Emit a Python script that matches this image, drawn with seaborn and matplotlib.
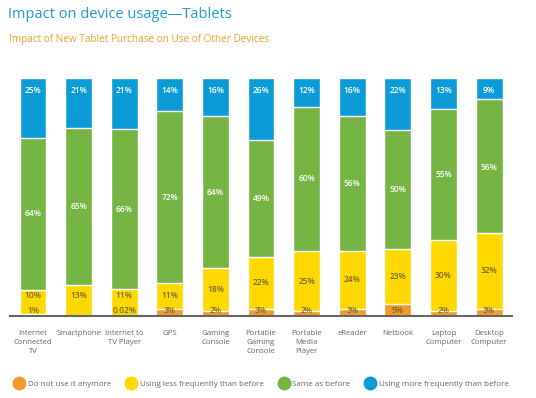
import matplotlib
matplotlib.use("Agg")
import matplotlib.pyplot as plt
import seaborn as sns
import numpy as np
import pandas as pd
from matplotlib.lines import Line2D

devices = ['Internet\nConnected\nTV', 'Smartphone', 'Internet to\nTV Player', 'GPS',
           'Gaming\nConsole', 'Portable\nGaming\nConsole', 'Portable\nMedia\nPlayer',
           'eReader', 'Netbook', 'Laptop\nComputer', 'Desktop\nComputer']
not_anymore = [1, 0, 0.02, 3, 2, 3, 2, 3, 5, 2, 3]
less_often = [10, 13, 11, 11, 18, 22, 25, 24, 23, 30, 32]
same = [64, 65, 66, 72, 64, 49, 60, 56, 50, 55, 56]
more_often = [25, 21, 21, 14, 16, 26, 12, 16, 22, 13, 9]

series = ['Do not use it anymore', 'Using less frequently than before',
          'Same as before', 'Using more frequently than before']
colors = ['#f39a2b', '#ffd800', '#76b443', '#0b9bd7']

df = pd.DataFrame({'device': devices, 'o': not_anymore, 'y': less_often,
                   'g': same, 'b': more_often})
total = df[['o', 'y', 'g', 'b']].sum(axis=1)
# bars are all drawn to full height
for c in ['o', 'y', 'g', 'b']:
    df[c + '_n'] = df[c] / total * 100
df['c1'] = df['o_n']
df['c2'] = df['c1'] + df['y_n']
df['c3'] = df['c2'] + df['g_n']
df['c4'] = df['c3'] + df['b_n']

sns.set_style('white')
plt.rcParams['font.family'] = ['Open Sans', 'DejaVu Sans']

fig = plt.figure(figsize=(5.36, 3.98), dpi=100)
ax = fig.add_axes([0.019, 0.206, 0.936, 0.598])

# stacked bars by overdrawing cumulative totals
for col, color in zip(['c4', 'c3', 'c2', 'c1'], colors[::-1]):
    sns.barplot(data=df, x='device', y=col, color=color, width=0.59,
                saturation=1, ax=ax, errorbar=None)

dark = '#73672f'
for i, row in df.iterrows():
    if row['o'] > 0:
        ax.text(i, max(row['c1'] / 2, 2.2), f"{row['o']:g}%", ha='center', va='center',
                fontsize=6, color=dark, weight='semibold')
    ax.text(i, max((row['c1'] + row['c2']) / 2, 8.8), f"{row['y']:g}%", ha='center',
            va='center', fontsize=6, color=dark, weight='semibold')
    ax.text(i, min((row['c2'] + row['c3']) / 2, 62.6), f"{row['g']:g}%", ha='center',
            va='center', fontsize=6, color='white', weight='semibold')
    ax.text(i, 94.7, f"{row['b']:g}%", ha='center', va='center',
            fontsize=6, color='white', weight='semibold')

ax.set_xlim(-0.5, len(devices) - 0.5)
ax.set_ylim(0, 100)
ax.set_xlabel('')
ax.set_ylabel('')
ax.set_yticks([])
ax.set_xticks(range(len(devices)))
ax.set_xticklabels(devices, fontsize=5.6, color='#666666', linespacing=1.45, va='top')
ax.set_xticks(np.arange(-0.5, len(devices)), minor=True)
ax.tick_params(axis='x', which='major', length=0, pad=10)
ax.tick_params(axis='x', which='minor', length=6, width=1, color='#555555', direction='out')
for s in ['top', 'right', 'left']:
    ax.spines[s].set_visible(False)
ax.spines['bottom'].set_color('#666666')
ax.spines['bottom'].set_linewidth(1.5)

fig.text(0.015, 0.963, 'Impact on device usage\u2014Tablets', fontsize=10.5,
         color='#1f9ad2', va='center')
fig.text(0.017, 0.902, 'Impact of New Tablet Purchase on Use of Other Devices',
         fontsize=7.2, color='#f0a030', va='center')

handles = [Line2D([], [], marker='o', linestyle='', markersize=9, color=c) for c in colors]
fig.legend(handles, series, loc='center', bbox_to_anchor=(0.488, 0.035), ncol=4,
           frameon=False, fontsize=5.8, labelcolor='#666666', handletextpad=0.45,
           columnspacing=1.9, handlelength=1.2)

fig.savefig('out.png', dpi=100)
